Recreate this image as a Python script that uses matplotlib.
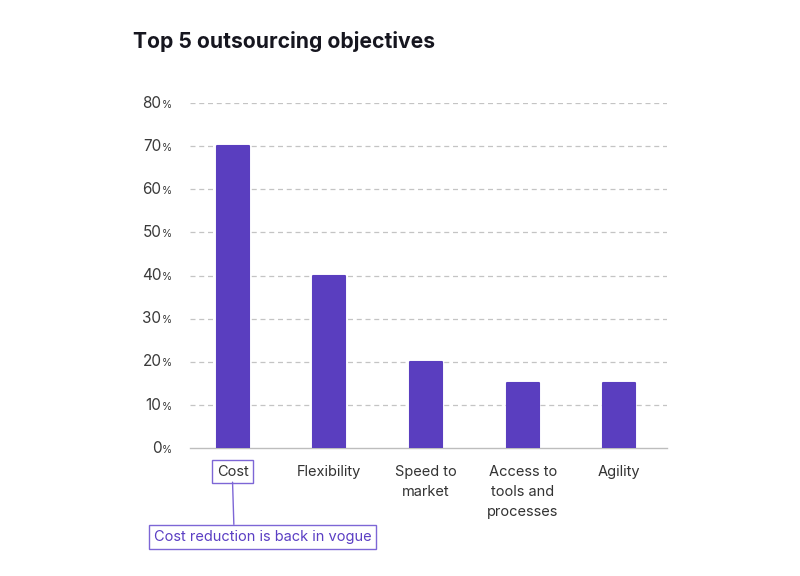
import matplotlib.pyplot as plt
import matplotlib.transforms as mtransforms

plt.rcParams['font.family'] = ['Inter', 'DejaVu Sans']

categories = ["Cost", "Flexibility", "Speed to\nmarket", "Access to\ntools and\nprocesses", "Agility"]
values = [70, 40, 20, 15, 15]
yticks = [0, 10, 20, 30, 40, 50, 60, 70, 80]
note = "Cost reduction is back in vogue"

bar_color = "#5a3ebf"
purple_text = "#5b3fc4"
box_edge = "#7d66d6"

fig = plt.figure(figsize=(8, 5.76), dpi=100)
ax = fig.add_axes([0.2375, 0.222, 0.596, 0.599])

x = list(range(len(categories)))
ax.bar(x, values, width=0.33, color=bar_color, edgecolor=bar_color,
       linewidth=1.5, joinstyle='round', zorder=3)

ax.set_xlim(-0.44, 4.49)
ax.set_ylim(0, 80)

# grid
for t in yticks[1:]:
    ax.axhline(t, color="#c4c4c4", linewidth=0.9, linestyle=(0, (4, 3)), zorder=1)

for s in ["top", "right", "left"]:
    ax.spines[s].set_visible(False)
ax.spines["bottom"].set_color("#bdbdbd")
ax.spines["bottom"].set_linewidth(1.0)

ax.set_yticks(yticks)
ax.set_yticklabels([])
ax.tick_params(axis='y', length=0)

# y tick labels: number + small percent
trans = mtransforms.blended_transform_factory(ax.transAxes, ax.transData)
for t in yticks:
    ax.text(-0.06, t, str(t), transform=trans, ha='right', va='center',
            fontsize=11, color="#3a3a3a")
    ax.text(-0.058, t - 0.35, "%", transform=trans, ha='left', va='center',
            fontsize=7.5, color="#3a3a3a")

ax.set_xticks(x)
ax.set_xticklabels(categories, fontsize=10.5, color="#333333", linespacing=1.55, va='top')
ax.tick_params(axis='x', length=0, pad=12)
lbl = ax.get_xticklabels()[0]
lbl.set_bbox(dict(boxstyle="square,pad=0.3", facecolor="white", edgecolor=box_edge, linewidth=1))

ax.annotate(note, xy=(0, -7.9), xycoords='data', xytext=(0.31, -20.6), textcoords='data',
            ha='center', va='center', fontsize=10.5, color=purple_text, annotation_clip=False,
            bbox=dict(boxstyle="square,pad=0.35", facecolor="white", edgecolor=box_edge, linewidth=1),
            arrowprops=dict(arrowstyle='-', color=box_edge, lw=1, relpos=(0.369, 1.0),
                            shrinkA=0, shrinkB=0))

fig.text(133 / 800, 1 - 41 / 576, "Top 5 outsourcing objectives", fontsize=15.2,
         fontweight='bold', color="#16161f", ha='left', va='center')

fig.savefig("out.png", dpi=100)
